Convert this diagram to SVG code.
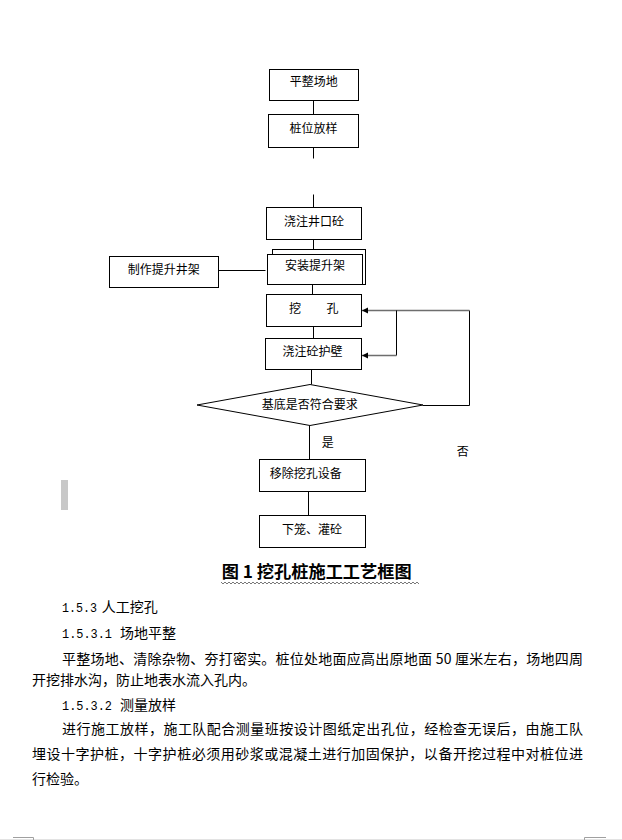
<svg xmlns="http://www.w3.org/2000/svg" width="622" height="840" viewBox="0 0 622 840">
<style>
.box{fill:#fff;stroke:#000;stroke-width:1}
.ln{fill:none;stroke:#000;stroke-width:1}
.gl{fill:none;stroke:#6e6e6e;stroke-width:1.3}
.t{font-family:"Noto Sans CJK SC","Liberation Sans",sans-serif;font-size:12px;fill:#000;text-anchor:middle}
.p{font-family:"Noto Sans CJK SC","Liberation Sans",sans-serif;font-size:14px;fill:#000}
.m{font-family:"Liberation Mono",monospace;font-size:12.5px;fill:#000}
.cap{font-family:"Noto Sans CJK SC","Liberation Sans",sans-serif;font-size:17px;font-weight:bold;fill:#000}
</style>
<defs>
<marker id="ah" markerWidth="7" markerHeight="7" refX="6" refY="3" orient="auto" markerUnits="userSpaceOnUse">
<path d="M0,0 L6,3 L0,6 Z" fill="#000"/>
</marker>
</defs>
<rect width="622" height="840" fill="#fff"/>

<g id="connectors">
<line class="ln" x1="313.5" y1="100.5" x2="313.5" y2="114.5"/>
<line class="ln" x1="313.5" y1="147.5" x2="313.5" y2="158.5"/>
<line class="ln" x1="313.5" y1="194.5" x2="313.5" y2="207.5"/>
<line class="ln" x1="313.5" y1="239.5" x2="313.5" y2="249.5"/>
<line class="ln" x1="218.5" y1="270.5" x2="265.5" y2="270.5"/>
<line class="ln" x1="312.5" y1="284.5" x2="312.5" y2="294.5"/>
<line class="ln" x1="313.5" y1="326.5" x2="313.5" y2="338.5"/>
<line class="ln" x1="311.5" y1="369.5" x2="311.5" y2="384.5"/>
<line class="ln" x1="309.5" y1="425.5" x2="309.5" y2="459.5"/>
<line class="ln" x1="308.5" y1="491.5" x2="308.5" y2="515.5"/>
<polyline class="ln" points="423,405.5 469.5,405.5 469.5,310.5"/>
<line class="gl" x1="469.5" y1="310.5" x2="362" y2="310.5" marker-end="url(#ah)"/>
<line class="ln" x1="396.5" y1="310.5" x2="396.5" y2="355.5"/>
<line class="gl" x1="396.5" y1="355.5" x2="362" y2="355.5" marker-end="url(#ah)"/>
</g>

<g id="n1"><rect class="box" x="269.5" y="69.5" width="89" height="31"/><text class="t" x="313.7" y="86">平整场地</text></g>
<g id="n2"><rect class="box" x="268.5" y="114.5" width="90" height="33"/><text class="t" x="313.5" y="132.5">桩位放样</text></g>
<g id="n3"><rect class="box" x="266.5" y="207.5" width="95" height="32"/><text class="t" x="314" y="225.5">浇注井口砼</text></g>
<g id="n4"><rect class="box" x="272.5" y="249.5" width="93" height="35"/><rect class="box" x="267.5" y="254.5" width="95" height="30"/><text class="t" x="315" y="269.5">安装提升架</text></g>
<g id="n5"><rect class="box" x="109.5" y="256.5" width="109" height="31"/><text class="t" x="163.7" y="273.7">制作提升井架</text></g>
<g id="n6"><rect class="box" x="266.5" y="294.5" width="95" height="32"/><text class="t" y="312.5"><tspan x="295">挖</tspan><tspan x="332.5">孔</tspan></text></g>
<g id="n7"><rect class="box" x="265.5" y="338.5" width="96" height="31"/><text class="t" x="312.5" y="356">浇注砼护壁</text></g>
<g id="n8"><polygon class="box" points="310,384.5 423,405 310,425.5 197,405"/><text class="t" x="309.7" y="409.3">基底是否符合要求</text></g>
<g id="l-yes"><text class="t" x="327.7" y="447.3">是</text></g>
<g id="l-no"><text class="t" x="462.7" y="456">否</text></g>
<g id="n9"><rect class="box" x="259.5" y="459.5" width="106" height="32"/><text class="t" x="305.7" y="477.6">移除挖孔设备</text></g>
<g id="n10"><rect class="box" x="259.5" y="515.5" width="106" height="32"/><text class="t" x="311.9" y="534.3">下笼、灌砼</text></g>

<rect x="61" y="480" width="7" height="30" fill="#c8c8c8"/>

<text class="cap" x="221.7" y="578" textLength="190" lengthAdjust="spacingAndGlyphs">图 1 挖孔桩施工工艺框图</text>
<path d="M221,582 l2,2 l2,-2 l2,2 l2,-2 l2,2 l2,-2 l2,2 l2,-2 l2,2 l2,-2 l2,2 l2,-2 l2,2 l2,-2 l2,2 l2,-2 l2,2 l2,-2 l2,2 l2,-2 l2,2 l2,-2 l2,2 l2,-2 l2,2 l2,-2 l2,2 l2,-2 l2,2 l2,-2 l2,2 l2,-2 l2,2 l2,-2 l2,2 l2,-2 l2,2 l2,-2 l2,2 l2,-2 l2,2 l2,-2 l2,2 l2,-2 l2,2 l2,-2 l2,2 l2,-2 l2,2 l2,-2 l2,2 l2,-2 l2,2 l2,-2 l2,2 l2,-2 l2,2 l2,-2 l2,2 l2,-2 l2,2 l2,-2 l2,2 l2,-2 l2,2 l2,-2 l2,2 l2,-2 l2,2 l2,-2 l2,2 l2,-2 l2,2 l2,-2 l2,2 l2,-2 l2,2 l2,-2 l2,2 l2,-2 l2,2 l2,-2 l2,2 l2,-2 l2,2 l2,-2 l2,2 l2,-2 l2,2 l2,-2 l2,2 l2,-2 l2,2 l2,-2 l2,2 l2,-2 l2,2 l2,-2 l2,2" fill="none" stroke="#555" stroke-width="0.8"/>

<text class="m" x="62" y="611.5" textLength="35" lengthAdjust="spacingAndGlyphs">1.5.3</text><text class="p" x="101.7" y="612">人工挖孔</text>
<text class="m" x="62" y="637.5" textLength="50" lengthAdjust="spacingAndGlyphs">1.5.3.1</text><text class="p" x="120" y="638">场地平整</text>
<text class="p" x="62" y="663.5" textLength="521" lengthAdjust="spacing">平整场地、清除杂物、夯打密实。桩位处地面应高出原地面 50 厘米左右，场地四周</text>
<text class="p" x="32" y="685">开挖排水沟，防止地表水流入孔内。</text>
<text class="m" x="62" y="709.5" textLength="50" lengthAdjust="spacingAndGlyphs">1.5.3.2</text><text class="p" x="120" y="710">测量放样</text>
<text class="p" x="62" y="733.5" textLength="521" lengthAdjust="spacing">进行施工放样，施工队配合测量班按设计图纸定出孔位，经检查无误后，由施工队</text>
<text class="p" x="32" y="758.5" textLength="551" lengthAdjust="spacing">埋设十字护桩，十字护桩必须用砂浆或混凝土进行加固保护，以备开挖过程中对桩位进</text>
<text class="p" x="32" y="783.5">行检验。</text>

<line x1="0" y1="839.5" x2="622" y2="839.5" stroke="#e3e3e3" stroke-width="1"/>
<polyline points="13,837.5 33.5,837.5 33.5,840" fill="none" stroke="#a0a0a0" stroke-width="1"/>
<polyline points="584.5,840 584.5,837.5 606,837.5" fill="none" stroke="#a0a0a0" stroke-width="1"/>
</svg>
